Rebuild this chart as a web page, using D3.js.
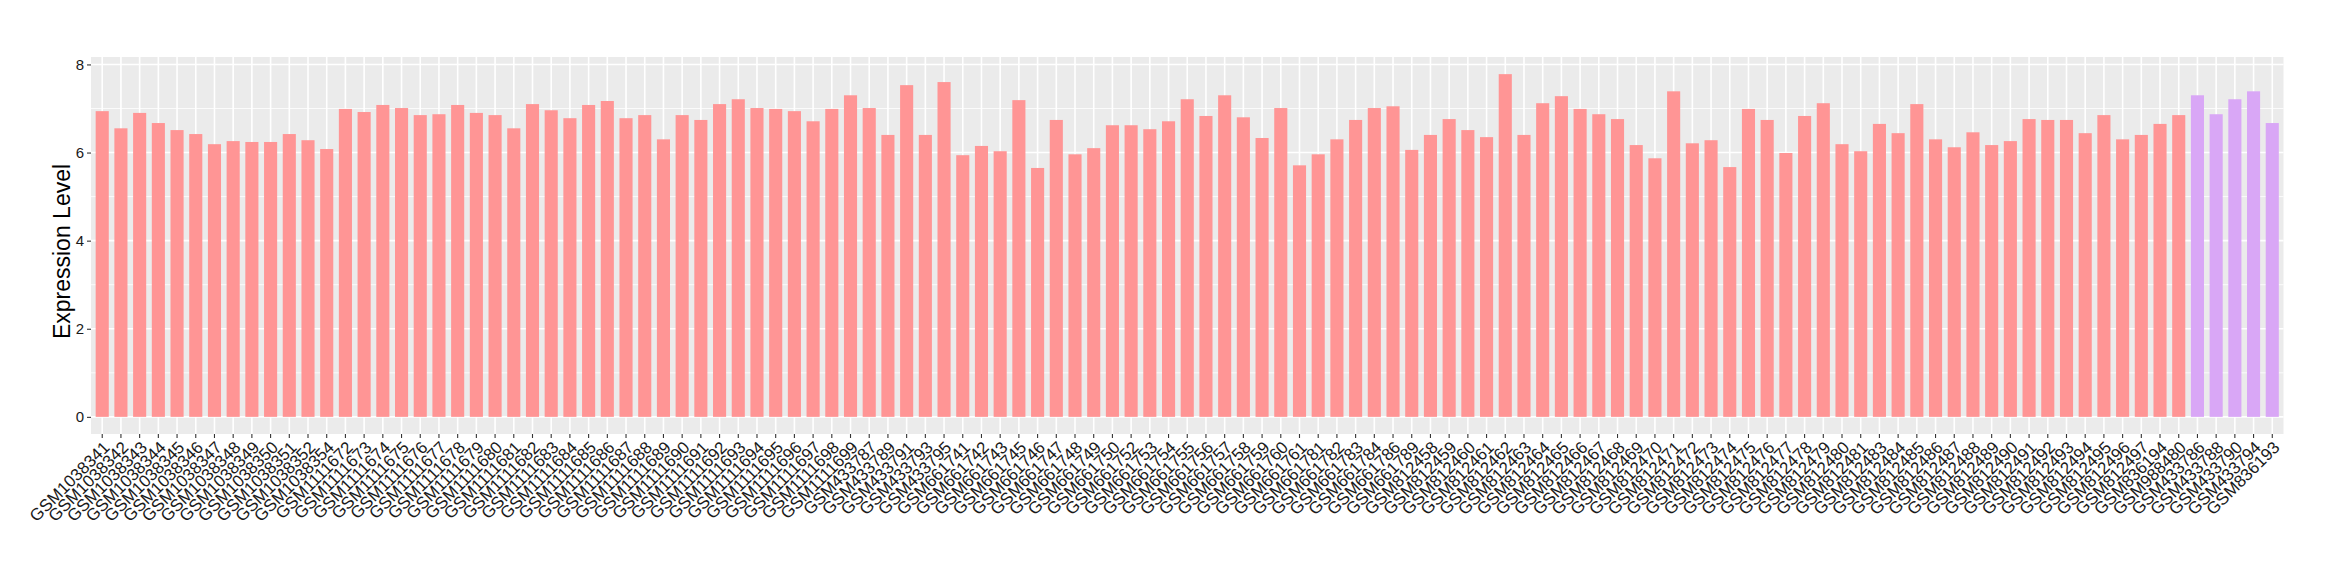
<!DOCTYPE html>
<html>
<head>
<meta charset="utf-8">
<script src="https://cdn.jsdelivr.net/npm/d3@7"></script>
<style>
  html, body { margin: 0; padding: 0; background: #ffffff; }
  svg { display: block; }
  text { font-family: "Liberation Sans", Arial, Helvetica, sans-serif; }
</style>
</head>
<body>
<svg id="chart" width="2340" height="580"></svg>
<script>
// Group 1 (pink) samples
const categoriesA = [
  "GSM1038341","GSM1038342","GSM1038343","GSM1038344","GSM1038345","GSM1038346","GSM1038347","GSM1038348","GSM1038349","GSM1038350",
  "GSM1038351","GSM1038352","GSM1038354","GSM1111672","GSM1111673","GSM1111674","GSM1111675","GSM1111676","GSM1111677","GSM1111678",
  "GSM1111679","GSM1111680","GSM1111681","GSM1111682","GSM1111683","GSM1111684","GSM1111685","GSM1111686","GSM1111687","GSM1111688",
  "GSM1111689","GSM1111690","GSM1111691","GSM1111692","GSM1111693","GSM1111694","GSM1111695","GSM1111696","GSM1111697","GSM1111698",
  "GSM1111699","GSM433787","GSM433789","GSM433791","GSM433793","GSM433795","GSM661741","GSM661742","GSM661743","GSM661745",
  "GSM661746","GSM661747","GSM661748","GSM661749","GSM661750","GSM661752","GSM661753","GSM661754","GSM661755","GSM661756",
  "GSM661757","GSM661758","GSM661759","GSM661760","GSM661761","GSM661781","GSM661782","GSM661783","GSM661784","GSM661786",
  "GSM661789","GSM812458","GSM812459","GSM812460","GSM812461","GSM812462","GSM812463","GSM812464","GSM812465","GSM812466",
  "GSM812467","GSM812468","GSM812469","GSM812470","GSM812471","GSM812472","GSM812473","GSM812474","GSM812475","GSM812476",
  "GSM812477","GSM812478","GSM812479","GSM812480","GSM812481","GSM812483","GSM812484","GSM812485","GSM812486","GSM812487",
  "GSM812488","GSM812489","GSM812490","GSM812491","GSM812492","GSM812493","GSM812494","GSM812495","GSM812496","GSM812497",
  "GSM836194","GSM988480"
];
const valuesA = [
  6.94,6.55,6.90,6.67,6.51,6.42,6.19,6.26,6.24,6.24,
  6.42,6.28,6.08,6.99,6.92,7.08,7.01,6.85,6.87,7.08,
  6.90,6.85,6.55,7.10,6.96,6.78,7.08,7.17,6.78,6.85,
  6.30,6.85,6.74,7.10,7.21,7.01,6.99,6.94,6.71,6.99,
  7.30,7.01,6.40,7.53,6.40,7.60,5.94,6.15,6.03,7.19,
  5.65,6.74,5.96,6.10,6.62,6.62,6.53,6.71,7.21,6.83,
  7.30,6.80,6.33,7.01,5.71,5.96,6.30,6.74,7.01,7.05,
  6.06,6.40,6.76,6.51,6.35,7.78,6.40,7.12,7.28,6.99,
  6.87,6.76,6.17,5.87,7.39,6.21,6.28,5.67,6.99,6.74,
  5.99,6.83,7.12,6.19,6.03,6.65,6.44,7.10,6.30,6.12,
  6.46,6.17,6.26,6.76,6.74,6.74,6.44,6.85,6.30,6.40,
  6.65,6.85
];
// Group 2 (purple) samples
const categoriesB = ["GSM433786","GSM433788","GSM433790","GSM433794","GSM836193"];
const valuesB = [7.30,6.87,7.21,7.39,6.67];

const yTicks = [0, 2, 4, 6, 8];
const yMinorTicks = [1, 3, 5, 7];
const yTitle = "Expression Level";
const colorA = "#FF9595";
const colorB = "#D9A7F6";

const rows = categoriesA.map((c, i) => ({ cat: c, value: valuesA[i], color: colorA }))
  .concat(categoriesB.map((c, i) => ({ cat: c, value: valuesB[i], color: colorB })));

const svg = d3.select("#chart");
const panel = { left: 91, right: 2283.5, top: 57, bottom: 434 };

const x = d3.scaleBand()
  .domain(rows.map(d => d.cat))
  .range([panel.left, panel.right])
  .paddingInner(0.3)
  .paddingOuter(0.25);

const yMax = d3.max(rows, d => d.value);
const expand = yMax * 0.05;
const y = d3.scaleLinear()
  .domain([0 - expand, yMax + expand])
  .range([panel.bottom, panel.top]);

// panel background
svg.append("rect")
  .attr("x", panel.left).attr("y", panel.top)
  .attr("width", panel.right - panel.left)
  .attr("height", panel.bottom - panel.top)
  .attr("fill", "#EBEBEB");

// minor grid
svg.append("g").selectAll("line").data(yMinorTicks).join("line")
  .attr("x1", panel.left).attr("x2", panel.right)
  .attr("y1", d => y(d)).attr("y2", d => y(d))
  .attr("stroke", "#ffffff").attr("stroke-width", 0.8);

// major grid
svg.append("g").selectAll("line").data(yTicks).join("line")
  .attr("x1", panel.left).attr("x2", panel.right)
  .attr("y1", d => y(d)).attr("y2", d => y(d))
  .attr("stroke", "#ffffff").attr("stroke-width", 1.6);

svg.append("g").selectAll("line").data(rows).join("line")
  .attr("x1", d => x(d.cat) + x.bandwidth() / 2)
  .attr("x2", d => x(d.cat) + x.bandwidth() / 2)
  .attr("y1", panel.top).attr("y2", panel.bottom)
  .attr("stroke", "#ffffff").attr("stroke-width", 1.6);

// bars
svg.append("g").selectAll("rect").data(rows).join("rect")
  .attr("x", d => x(d.cat))
  .attr("width", x.bandwidth())
  .attr("y", d => y(d.value))
  .attr("height", d => y(0) - y(d.value))
  .attr("fill", d => d.color);

// y axis
const yAxis = d3.axisLeft(y).tickValues(yTicks).tickSize(4).tickPadding(3).tickFormat(d3.format("d"));
const gy = svg.append("g").attr("transform", `translate(${panel.left},0)`).call(yAxis);
gy.select(".domain").remove();
gy.selectAll(".tick line").attr("stroke", "#333333").attr("stroke-width", 1.1);
gy.selectAll(".tick text").attr("fill", "#1a1a1a").attr("font-size", 15)
  .style("font-family", "'Liberation Sans', Arial, sans-serif");

// x axis
const xAxis = d3.axisBottom(x).tickSize(4).tickPadding(2);
const gx = svg.append("g").attr("transform", `translate(0,${panel.bottom})`).call(xAxis);
gx.select(".domain").remove();
gx.selectAll(".tick line").attr("stroke", "#333333").attr("stroke-width", 1.1);
gx.selectAll(".tick text")
  .attr("fill", "#1a1a1a")
  .attr("font-size", 17)
  .style("font-family", "'Liberation Sans', Arial, sans-serif")
  .attr("text-anchor", "end")
  .attr("dy", null)
  .attr("y", 0)
  .attr("transform", "translate(0,6) rotate(-45) translate(0,12)");

// y title
svg.append("text")
  .attr("transform", `translate(70,${(panel.top + panel.bottom) / 2 + 6}) rotate(-90)`)
  .attr("text-anchor", "middle")
  .attr("font-size", 23)
  .attr("fill", "#000")
  .text(yTitle);
</script>
</body>
</html>
